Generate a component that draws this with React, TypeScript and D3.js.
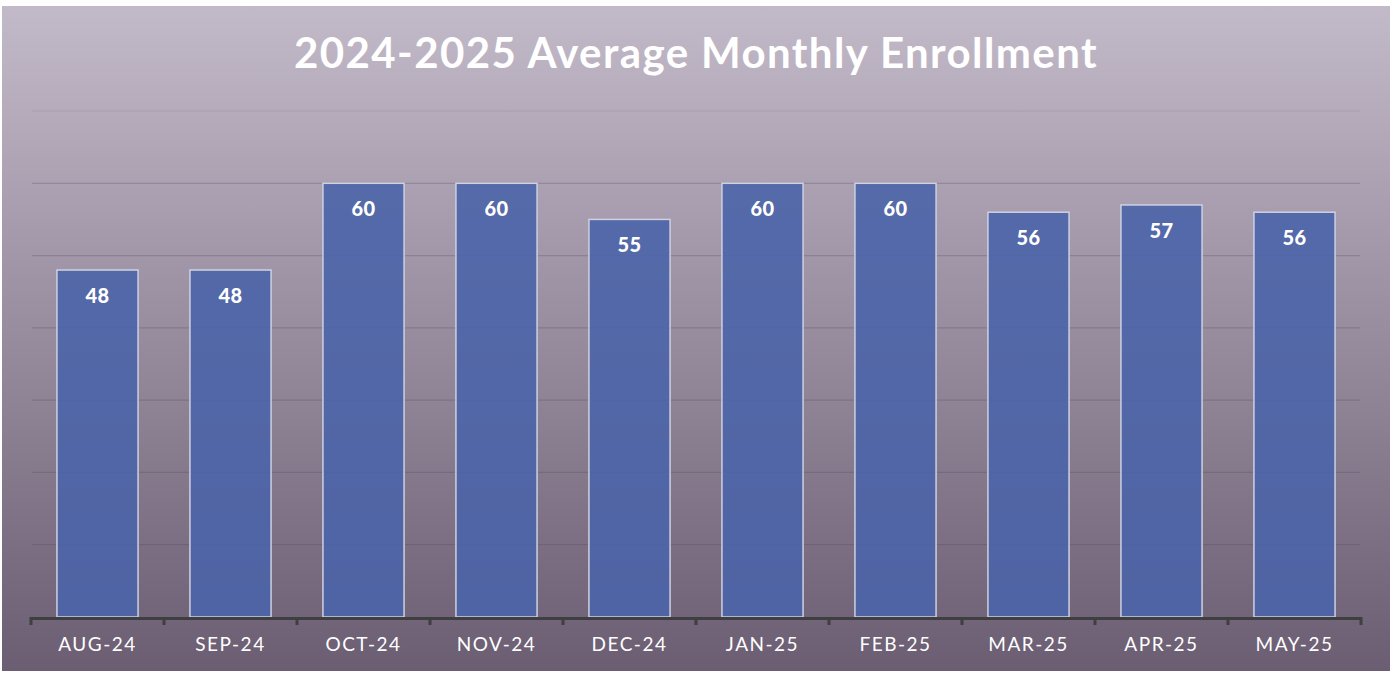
import * as d3 from 'd3';
import { useEffect, useRef } from 'react';

const months = ['AUG-24', 'SEP-24', 'OCT-24', 'NOV-24', 'DEC-24', 'JAN-25', 'FEB-25', 'MAR-25', 'APR-25', 'MAY-25'];
const enrollment = [48, 48, 60, 60, 55, 60, 60, 56, 57, 56];
const gridTicks = [10, 20, 30, 40, 50, 60, 70];

const title = '2024-2025 Average Monthly Enrollment';

function App() {
  const svgRef = useRef<SVGSVGElement>(null);

  useEffect(() => {
    const W = 1393;
    const H = 673;
    const svg = d3.select(svgRef.current);
    svg.selectAll('*').remove();
    svg.attr('width', W).attr('height', H);

    // background gradient
    const defs = svg.append('defs');
    const grad = defs.append('linearGradient')
      .attr('id', 'bg')
      .attr('x1', 0).attr('y1', 0).attr('x2', 0).attr('y2', 1);
    grad.append('stop').attr('offset', '0%').attr('stop-color', '#c3bac9');
    grad.append('stop').attr('offset', '100%').attr('stop-color', '#6b5d72');

    svg.append('rect').attr('width', W).attr('height', H).attr('fill', '#ffffff');
    svg.append('rect')
      .attr('x', 2).attr('y', 6)
      .attr('width', 1388).attr('height', 665)
      .attr('fill', 'url(#bg)');

    const left = 31, right = 1361, base = 617, top = 111;

    const x = d3.scaleBand().domain(months).range([left, right]).paddingInner(0.39).paddingOuter(0.195);
    const y = d3.scaleLinear().domain([0, 70]).range([base, top]);

    // gridlines
    svg.append('g')
      .selectAll('line')
      .data(gridTicks)
      .enter().append('line')
      .attr('x1', left + 1).attr('x2', right - 1)
      .attr('y1', d => y(d)).attr('y2', d => y(d))
      .attr('stroke', '#4a3f52')
      .attr('stroke-opacity', d => d === 70 ? 0.1 : 0.25)
      .attr('stroke-width', 1.2);

    // bars
    svg.append('g')
      .selectAll('rect')
      .data(enrollment)
      .enter().append('rect')
      .attr('x', (d, i) => x(months[i])!)
      .attr('y', d => y(d))
      .attr('width', x.bandwidth())
      .attr('height', d => base - y(d))
      .attr('fill', '#4b64a8')
      .attr('fill-opacity', 0.9)
      .attr('stroke', '#cfd0e2')
      .attr('stroke-width', 1.5);

    // data labels
    svg.append('g')
      .selectAll('text')
      .data(enrollment)
      .enter().append('text')
      .attr('x', (d, i) => x(months[i])! + x.bandwidth() / 2)
      .attr('y', d => y(d) + 33)
      .attr('text-anchor', 'middle')
      .attr('fill', '#ffffff')
      .style('font', "900 20px 'Lato'")
      .style('letter-spacing', '0.5px')
      .text(d => d);

    // x axis
    const xAxis = svg.append('g');
    xAxis.append('line')
      .attr('x1', left).attr('x2', right)
      .attr('y1', base + 1.5).attr('y2', base + 1.5)
      .attr('stroke', '#3f3f3f').attr('stroke-width', 3);
    const bounds = d3.range(months.length + 1).map(i => left + i * x.step());
    xAxis.selectAll('.tick')
      .data(bounds)
      .enter().append('line')
      .attr('class', 'tick')
      .attr('x1', d => d).attr('x2', d => d)
      .attr('y1', base).attr('y2', base + 8)
      .attr('stroke', '#3f3f3f').attr('stroke-width', 3);
    xAxis.selectAll('text')
      .data(months)
      .enter().append('text')
      .attr('x', d => x(d)! + x.bandwidth() / 2)
      .attr('y', 651)
      .attr('text-anchor', 'middle')
      .attr('fill', '#ffffff')
      .style('font', "19px 'Lato'")
      .style('letter-spacing', '1.5px')
      .text(d => d);

    // title
    svg.append('text')
      .attr('x', 696)
      .attr('y', 68)
      .attr('text-anchor', 'middle')
      .attr('fill', '#ffffff')
      .style('font', "bold 42px 'Lato'")
      .style('letter-spacing', '1.4px')
      .text(title);
  }, []);

  return (
    <div style={{ position: 'absolute', left: 0, top: 0 }}>
      <svg ref={svgRef} style={{ display: 'block' }}></svg>
    </div>
  );
}

export default App;
